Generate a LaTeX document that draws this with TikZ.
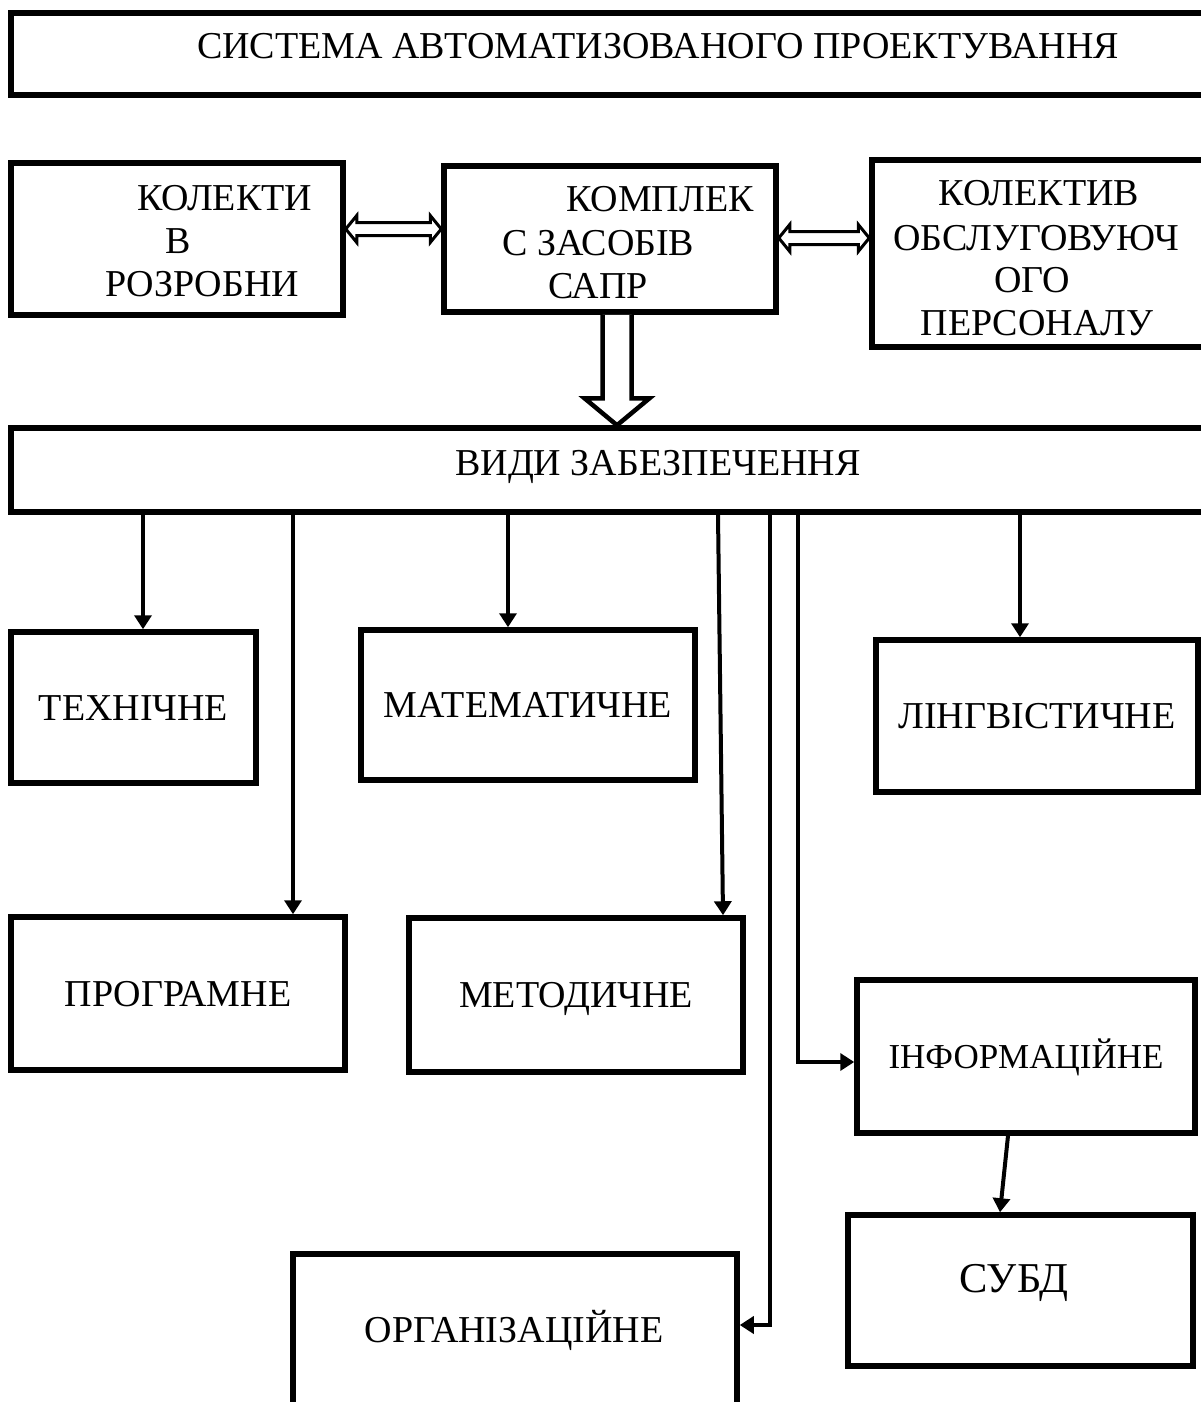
\documentclass[tikz,border=0pt]{standalone}
\usepackage{fontspec}
\setmainfont{Liberation Serif}
\usetikzlibrary{arrows.meta,calc}
\newcommand\fsmain{\fontsize{38}{45}\selectfont}
\newcommand\fsinfo{\fontsize{35}{42}\selectfont}
\newcommand\fsbig{\fontsize{42.5}{50}\selectfont}
\begin{document}
\begin{tikzpicture}[x=1pt,y=-1pt,
  box/.style={draw, line width=5.5pt, inner sep=0pt, text height=25pt, text depth=0pt, font=\fsmain},
  lbl/.style={inner sep=0pt, font=\fsmain},
  arr/.style={line width=4pt, -{Triangle[length=14pt,width=17pt]}},
  hollow/.style={draw, fill=white, line width=4.5pt, line join=miter},
  dbl/.style={draw, fill=white, line width=3pt, line join=miter}]
\useasboundingbox (0,0) rectangle (1201,1402);
\clip (0,0) rectangle (1201,1402);

% frames
\node[box, minimum width=1219pt, minimum height=82pt]  (title) at (620.5,54) {};
\node[box, minimum width=332pt,  minimum height=152pt] (dev)   at (177,239) {};
\node[box, minimum width=332pt,  minimum height=146pt] (cad)   at (610,239) {};
\node[box, minimum width=358pt,  minimum height=187pt] (staff) at (1051,253.5) {};
\node[box, minimum width=1219pt, minimum height=84pt]  (vydy)  at (620.5,470) {};
\node[box, minimum width=245pt,  minimum height=151pt] (tech)  at (133.5,707.5) {ТЕХНІЧНЕ};
\node[box, minimum width=334pt,  minimum height=150pt] (math)  at (528,705) {МАТЕМАТИЧНЕ};
\node[box, minimum width=322pt,  minimum height=152pt] (ling)  at (1037,716) {ЛІНГВІСТИЧНЕ};
\node[box, minimum width=334pt,  minimum height=153pt] (prog)  at (178,993.5) {ПРОГРАМНЕ};
\node[box, minimum width=334pt,  minimum height=154pt] (meth)  at (576,995) {МЕТОДИЧНЕ};
\node[box, minimum width=338pt,  minimum height=153pt, font=\fsinfo, text height=23pt] (info) at (1026,1056.5) {ІНФОРМАЦІЙНЕ};
\node[box, minimum width=345pt,  minimum height=151pt] (subd)  at (1020.5,1290.5) {};
\node[box, minimum width=444pt,  minimum height=206pt] (org)   at (515,1357) {};

% texts
\node[lbl, anchor=base] (ttitle) at (658,59) {СИСТЕМА АВТОМАТИЗОВАНОГО ПРОЕКТУВАННЯ};
\node[lbl, anchor=base west] (tdev1) at (137,210) {КОЛЕКТИ};
\node[lbl, anchor=base west] (tdev2) at (165,253) {В};
\node[lbl, anchor=base west] (tdev3) at (105,296) {РОЗРОБНИ};
\node[lbl, anchor=base west] (tcad1) at (566,211) {КОМПЛЕК};
\node[lbl, anchor=base west] (tcad2) at (502,255) {С ЗАСОБІВ};
\node[lbl, anchor=base west] (tcad3) at (548,298) {САПР};
\node[lbl, anchor=base] (tstaff1) at (1039,205) {КОЛЕКТИВ};
\node[lbl, anchor=base] (tstaff2) at (1036,250) {ОБСЛУГОВУЮЧ};
\node[lbl, anchor=base] (tstaff3) at (1032,292) {ОГО};
\node[lbl, anchor=base] (tstaff4) at (1037,335) {ПЕРСОНАЛУ};
\node[lbl, anchor=base] (tvydy) at (658,475) {ВИДИ ЗАБЕЗПЕЧЕННЯ};
\node[lbl, anchor=base, font=\fsbig] (tsubd) at (1014,1292) {СУБД};
\node[lbl, anchor=base] (torg) at (514,1342) {ОРГАНІЗАЦІЙНЕ};

% double-headed links between the teams and the CAD complex
\coordinate (dl) at (0,229);
\coordinate (dr) at (0,238);
\path (dev.east |- dl) coordinate (a1) (cad.west |- dl) coordinate (b1)
      (cad.east |- dr) coordinate (a2) (staff.west |- dr) coordinate (b2);
\draw[dbl] (a1) -- ($(a1)+(11,-13.5)$) -- ($(a1)+(11,-6.5)$) -- ($(b1)+(-11,-6.5)$) -- ($(b1)+(-11,-13.5)$)
  -- (b1) -- ($(b1)+(-11,13.5)$) -- ($(b1)+(-11,6.5)$) -- ($(a1)+(11,6.5)$) -- ($(a1)+(11,13.5)$) -- cycle;
\draw[dbl] (a2) -- ($(a2)+(11,-13.5)$) -- ($(a2)+(11,-6.5)$) -- ($(b2)+(-11,-6.5)$) -- ($(b2)+(-11,-13.5)$)
  -- (b2) -- ($(b2)+(-11,13.5)$) -- ($(b2)+(-11,6.5)$) -- ($(a2)+(11,6.5)$) -- ($(a2)+(11,13.5)$) -- cycle;

% broad hollow arrow from the CAD complex to the kinds of support
\coordinate (hx) at (617,0);
\path (cad.south -| hx) coordinate (ht) (vydy.north -| hx) coordinate (hb);
\draw[hollow] ([xshift=-14.5pt]ht) -- ([xshift=-14.5pt,yshift=27pt]hb) -- ([xshift=-32.5pt,yshift=27pt]hb)
  -- (hb) -- ([xshift=32.5pt,yshift=27pt]hb) -- ([xshift=14.5pt,yshift=27pt]hb) -- ([xshift=14.5pt]ht);

% branches to each kind of support
\coordinate (x1) at (143,0);
\coordinate (x2) at (293,0);
\coordinate (x3) at (508,0);
\coordinate (x4a) at (718,0);
\coordinate (x4b) at (723,0);
\coordinate (x6) at (1020,0);
\coordinate (ci) at (798,1062);
\coordinate (co) at (770,1325);
\coordinate (s1) at (1008,0);
\coordinate (s2) at (1000,0);
\draw[arr] (vydy.south -| x1) -- (tech.north -| x1);
\draw[arr] (vydy.south -| x2) -- (prog.north -| x2);
\draw[arr] (vydy.south -| x3) -- (math.north -| x3);
\draw[arr] (vydy.south -| x4a) -- (meth.north -| x4b);
\draw[arr] (vydy.south -| x6) -- (ling.north -| x6);
\draw[arr] (vydy.south -| ci) |- (info.west |- ci);
\draw[arr] (vydy.south -| co) |- (org.east |- co);
\draw[arr] (info.south -| s1) -- (subd.north -| s2);
\end{tikzpicture}
\end{document}
